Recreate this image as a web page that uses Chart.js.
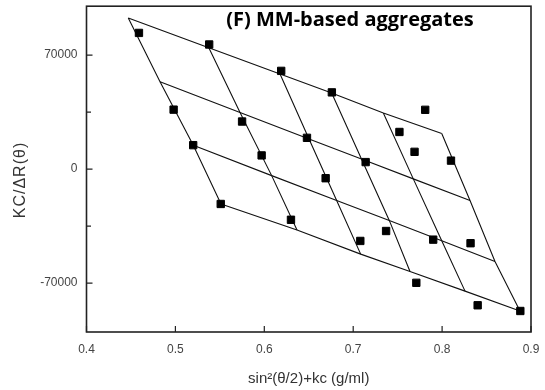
<!DOCTYPE html>
<html><head><meta charset="utf-8">
<script src="https://cdn.jsdelivr.net/npm/chart.js@4.4.1/dist/chart.umd.min.js"></script>
<style>html,body{margin:0;padding:0;background:#fff}#wrap{width:545px;height:390px}</style>
</head><body><div id="wrap"><canvas id="c" width="545" height="390"></canvas></div>
<script>
// ---- data ----
const titleText = '(F) MM-based aggregates';
const xTitle = 'sin\u00B2(\u03B8/2)+kc (g/ml)';
const yTitle = 'KC/\u0394R(\u03B8)';
const xTicks = [0.4, 0.5, 0.6, 0.7, 0.8, 0.9];
const yTicks = [-70000, -35000, 0, 35000, 70000];
const yLabels = [-70000, 0, 70000];

// measured data points
const pointX = [0.459, 0.538, 0.619, 0.676, 0.498, 0.575, 0.781, 0.752, 0.520, 0.648, 0.597, 0.769,
                0.714, 0.810, 0.669, 0.551, 0.630, 0.737, 0.708, 0.790, 0.832, 0.771, 0.840, 0.888];
const pointY = [83600, 76500, 60300, 47100, 36500, 29200, 36400, 22800, 14700, 19200, 8400, 10600,
                4300, 5200, -5600, -21400, -31100, -38000, -44100, -43300, -45500, -69800, -83600, -87100];

// Zimm grid nodes: rows = constant-concentration lines, columns = constant-angle lines
const gridX = [
  [0.4470, 0.5376, 0.6177, 0.6758, 0.7339, 0.7996],
  [0.4827, 0.5727, 0.6503, 0.7093, 0.7676, 0.8314],
  [0.5201, 0.6083, 0.6814, 0.7406, 0.7996, 0.8595],
  [0.5513, 0.6368, 0.7084, 0.7639, 0.8258, 0.8876]
];
const gridY = [
  [92700, 74500, 58400, 46700, 34500, 21800],
  [53600, 34800, 18500, 6200, -6000, -19300],
  [14700, -4000, -19300, -31500, -44000, -56700],
  [-21400, -37400, -52200, -62900, -74900, -87100]
];

// ---- build datasets ----
const lineStyle = {type: 'scatter', showLine: true, borderColor: '#111', borderWidth: 1.1,
                   pointRadius: 0, fill: false, order: 2};
const datasets = [{
  type: 'scatter', order: 0,
  data: pointX.map((x, i) => ({x: x, y: pointY[i]})),
  pointStyle: 'rect', pointRadius: 5.2, backgroundColor: '#000', borderColor: '#000', borderWidth: 1
}];
gridX.forEach((row, r) => {
  datasets.push(Object.assign({}, lineStyle, {data: row.map((x, c) => ({x: x, y: gridY[r][c]}))}));
});
for (let c = 0; c < gridX[0].length; c++) {
  datasets.push(Object.assign({}, lineStyle, {data: gridX.map((row, r) => ({x: row[c], y: gridY[r][c]}))}));
}

const framePlugin = {
  id: 'frame',
  afterDraw(chart) {
    const {ctx, chartArea: a, scales} = chart;
    ctx.save();
    ctx.strokeStyle = '#222';
    ctx.lineWidth = 1.6;
    ctx.strokeRect(a.left, a.top, a.right - a.left, a.bottom - a.top);
    ctx.lineWidth = 1.2;
    ctx.beginPath();
    xTicks.forEach(v => {
      const px = scales.x.getPixelForValue(v);
      ctx.moveTo(px, a.bottom); ctx.lineTo(px, a.bottom - 6);
    });
    yTicks.forEach(v => {
      const py = scales.y.getPixelForValue(v);
      const len = yLabels.includes(v) ? 6 : 4.5;
      ctx.moveTo(a.left, py); ctx.lineTo(a.left + len, py);
    });
    ctx.stroke();
    // chart title inside the plot
    ctx.fillStyle = '#000';
    ctx.font = 'bold 20px "Open Sans", sans-serif';
    ctx.textAlign = 'center';
    ctx.textBaseline = 'middle';
    ctx.fillText(titleText, 350, 20);
    // y-axis title (sits a little below the axis centre in the reference)
    ctx.fillStyle = '#333';
    ctx.font = '16px "Liberation Sans", Arial, sans-serif';
    if ('letterSpacing' in ctx) ctx.letterSpacing = '1px';
    ctx.translate(21, 180);
    ctx.rotate(-Math.PI / 2);
    ctx.fillText(yTitle, 0, 0);
    ctx.restore();
  }
};

new Chart(document.getElementById('c'), {
  type: 'scatter',
  data: {datasets: datasets},
  plugins: [framePlugin],
  options: {
    responsive: false, animation: false, devicePixelRatio: 1,
    layout: {padding: {left: 0, right: 14, top: 3, bottom: 0}},
    plugins: {legend: {display: false}, tooltip: {enabled: false}, title: {display: false}},
    scales: {
      x: {
        type: 'linear', min: 0.4, max: 0.9,
        afterBuildTicks: s => { s.ticks = xTicks.map(v => ({value: v})); },
        afterFit: s => { s.height = 58; s.paddingLeft = 0; s.paddingRight = 0; },
        grid: {display: false, drawTicks: false}, border: {display: false},
        ticks: {padding: 10, color: '#444', font: {family: 'Liberation Sans, Arial', size: 12},
                callback: v => v.toFixed(1)},
        title: {display: true, text: xTitle, color: '#333',
                font: {family: 'Liberation Sans, Arial', size: 15}, padding: {top: 0, bottom: 2}}
      },
      y: {
        type: 'linear', min: -100000, max: 100000,
        afterBuildTicks: s => { s.ticks = yTicks.map(v => ({value: v})); },
        afterFit: s => { s.width = 86.5; s.paddingTop = 0; s.paddingBottom = 0; },
        grid: {display: false, drawTicks: false}, border: {display: false},
        ticks: {padding: 9, color: '#444', font: {family: 'Liberation Sans, Arial', size: 12},
                callback: v => yLabels.includes(v) ? String(v) : ''},
        title: {display: false}
      }
    }
  }
});
</script></body></html>
